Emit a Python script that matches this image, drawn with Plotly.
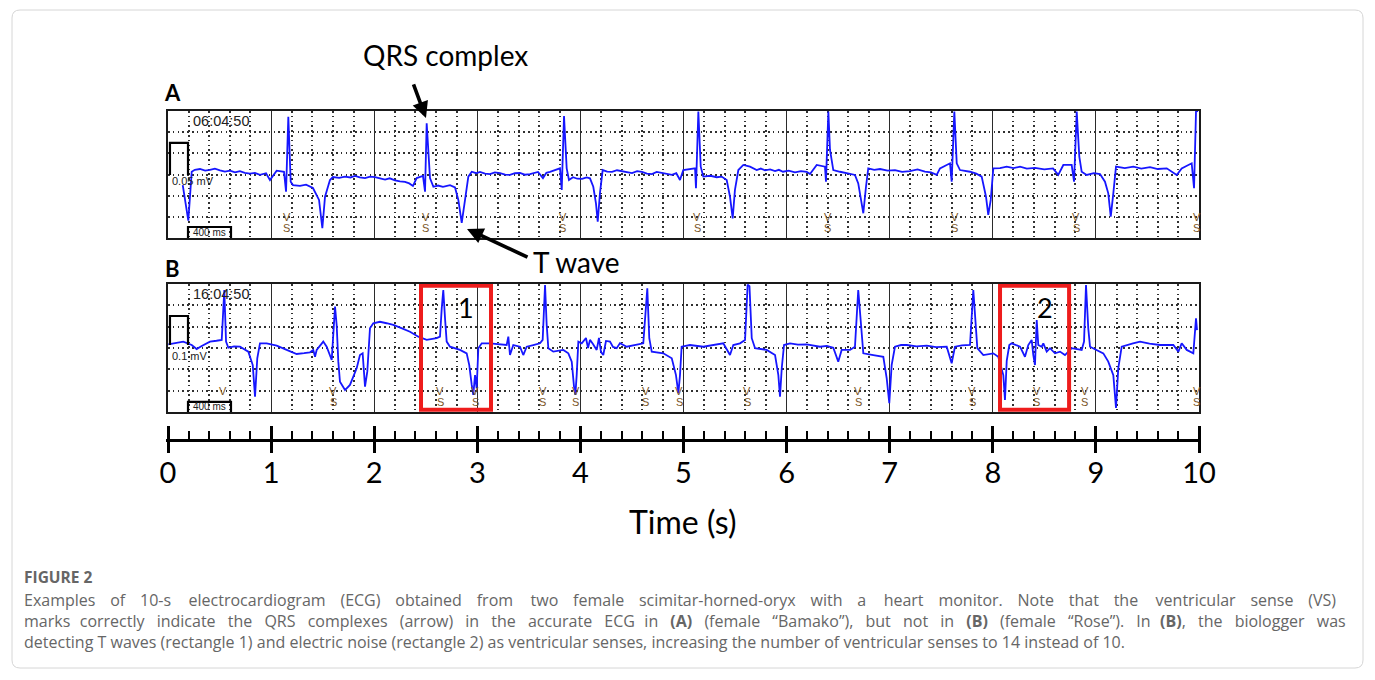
import plotly.graph_objects as go

# the page is drawn 8 px in from the window edge (body margin), so the
# figure is sized to fill the rest of the 1375x680 window
OFF = 8
W, H = 1375 - OFF, 680 - OFF

# ---------------- data (time in s, amplitude in grid divisions) ----------------
A_TIME = [0.143, 0.197, 0.230, 0.260, 0.310, 0.360, 0.407, 0.455, 0.504, 0.552,
          0.601, 0.650, 0.698, 0.745, 0.795, 0.843, 0.892, 0.951, 0.989, 1.054,
          1.125, 1.145, 1.167, 1.190, 1.212, 1.280, 1.339, 1.406, 1.465, 1.497,
          1.523, 1.571, 1.600, 1.660, 1.717, 1.770, 1.814, 1.860, 1.911, 1.960,
          2.008, 2.060, 2.105, 2.150, 2.202, 2.250, 2.299, 2.340, 2.376, 2.412,
          2.473, 2.493, 2.509, 2.541, 2.574, 2.620, 2.667, 2.735, 2.784, 2.816,
          2.849, 2.881, 2.913, 2.946, 2.990, 3.026, 3.075, 3.123, 3.170, 3.220,
          3.270, 3.317, 3.365, 3.414, 3.460, 3.511, 3.550, 3.589, 3.637, 3.670,
          3.705, 3.760, 3.802, 3.819, 3.841, 3.867, 3.889, 3.928, 3.970, 4.016,
          4.060, 4.093, 4.125, 4.151, 4.168, 4.190, 4.216, 4.260, 4.307, 4.355,
          4.404, 4.450, 4.501, 4.550, 4.597, 4.645, 4.694, 4.740, 4.791, 4.840,
          4.888, 4.930, 4.966, 4.998, 5.063, 5.112, 5.121, 5.144, 5.167, 5.192,
          5.260, 5.322, 5.370, 5.419, 5.451, 5.477, 5.499, 5.532, 5.580, 5.645,
          5.710, 5.750, 5.791, 5.840, 5.888, 5.925, 5.965, 6.020, 6.081, 6.140,
          6.195, 6.227, 6.292, 6.372, 6.382, 6.405, 6.421, 6.453, 6.518, 6.590,
          6.663, 6.695, 6.728, 6.744, 6.770, 6.792, 6.850, 6.906, 6.980, 7.051,
          7.120, 7.197, 7.270, 7.342, 7.400, 7.456, 7.488, 7.585, 7.601, 7.627,
          7.650, 7.682, 7.779, 7.840, 7.892, 7.934, 7.956, 7.980, 8.005, 8.070,
          8.135, 8.200, 8.264, 8.330, 8.409, 8.500, 8.584, 8.635, 8.684, 8.765,
          8.788, 8.814, 8.839, 8.862, 8.911, 8.980, 9.040, 9.088, 9.120, 9.144,
          9.169, 9.195, 9.280, 9.363, 9.440, 9.525, 9.600, 9.687, 9.784, 9.832,
          9.929, 9.952, 9.971, 9.990]
A_AMPL = [2.50, 0.82, 3.13, 3.22, 3.26, 3.18, 3.22, 3.28, 3.20, 3.14,
          3.18, 3.10, 3.16, 3.08, 3.04, 3.08, 2.98, 3.06, 2.74, 3.18,
          3.13, 2.19, 5.73, 2.66, 2.50, 2.46, 2.52, 2.36, 1.80, 0.46,
          1.95, 2.74, 2.88, 2.84, 2.90, 2.86, 2.93, 2.86, 2.83, 2.90,
          2.88, 2.80, 2.76, 2.82, 2.72, 2.68, 2.65, 2.58, 2.46, 2.83,
          2.93, 2.19, 5.42, 2.83, 2.42, 2.48, 2.42, 2.50, 2.39, 1.80,
          0.72, 1.80, 2.90, 3.13, 3.06, 3.12, 3.04, 3.02, 3.10, 3.07,
          2.99, 2.98, 3.06, 3.07, 2.99, 3.02, 3.08, 3.12, 2.83, 3.08,
          3.12, 3.20, 3.29, 2.27, 5.76, 3.29, 2.74, 2.87, 2.80, 2.79,
          2.86, 2.82, 2.42, 1.64, 0.77, 2.13, 3.21, 3.14, 3.12, 3.20,
          3.16, 3.10, 3.07, 3.16, 3.12, 3.04, 3.02, 3.12, 3.07, 3.00,
          2.98, 3.06, 2.74, 3.21, 3.26, 3.29, 2.35, 5.97, 3.37, 2.90,
          2.94, 2.87, 2.90, 2.74, 1.95, 0.93, 2.27, 3.21, 3.45, 3.37,
          3.21, 3.28, 3.20, 3.24, 3.16, 3.22, 3.13, 3.18, 3.10, 3.16,
          3.13, 3.02, 3.45, 3.37, 2.66, 5.97, 4.16, 3.21, 3.13, 3.06,
          2.98, 2.58, 1.64, 1.17, 2.42, 3.29, 3.22, 3.26, 3.18, 3.21,
          3.12, 3.16, 3.24, 3.14, 3.10, 2.98, 3.29, 3.53, 2.66, 5.97,
          3.53, 3.21, 3.13, 3.04, 2.90, 1.95, 1.09, 1.80, 3.29, 3.30,
          3.37, 3.30, 3.37, 3.28, 3.31, 3.24, 3.29, 2.98, 3.45, 3.45,
          2.66, 5.97, 3.84, 3.13, 2.98, 3.06, 3.02, 2.66, 2.11, 1.01,
          2.11, 3.37, 3.30, 3.37, 3.28, 3.35, 3.26, 3.29, 2.98, 3.29,
          3.53, 2.35, 5.97, 6.00]

B_TIME = [0.003, 0.148, 0.230, 0.278, 0.327, 0.407, 0.470, 0.521, 0.546, 0.563,
          0.585, 0.640, 0.698, 0.779, 0.822, 0.844, 0.866, 0.892, 0.957, 1.054,
          1.151, 1.248, 1.320, 1.377, 1.409, 1.426, 1.442, 1.506, 1.539, 1.588,
          1.620, 1.636, 1.652, 1.668, 1.717, 1.765, 1.830, 1.862, 1.888, 1.911,
          1.933, 1.959, 1.991, 2.056, 2.120, 2.185, 2.270, 2.347, 2.428, 2.509,
          2.606, 2.638, 2.655, 2.670, 2.687, 2.703, 2.735, 2.832, 2.897, 2.922,
          2.946, 2.961, 2.978, 2.994, 3.010, 3.043, 3.123, 3.220, 3.285, 3.301,
          3.317, 3.349, 3.414, 3.446, 3.479, 3.543, 3.608, 3.634, 3.657, 3.673,
          3.689, 3.737, 3.834, 3.883, 3.916, 3.938, 3.951, 3.964, 3.980, 4.013,
          4.054, 4.074, 4.093, 4.122, 4.158, 4.180, 4.200, 4.222, 4.248, 4.287,
          4.316, 4.352, 4.384, 4.449, 4.530, 4.610, 4.649, 4.668, 4.692, 4.804,
          4.886, 4.927, 4.950, 4.966, 4.982, 5.063, 5.192, 5.286, 5.386, 5.451,
          5.483, 5.548, 5.597, 5.622, 5.640, 5.662, 5.694, 5.807, 5.888, 5.920,
          5.936, 5.953, 5.975, 6.033, 6.110, 6.195, 6.260, 6.324, 6.390, 6.453,
          6.501, 6.534, 6.615, 6.663, 6.695, 6.719, 6.744, 6.841, 6.938, 6.971,
          6.996, 7.019, 7.051, 7.110, 7.165, 7.260, 7.359, 7.450, 7.553, 7.601,
          7.633, 7.700, 7.779, 7.811, 7.827, 7.850, 7.908, 8.005, 8.053, 8.102,
          8.118, 8.135, 8.160, 8.183, 8.264, 8.312, 8.344, 8.377, 8.393, 8.409,
          8.426, 8.441, 8.474, 8.490, 8.523, 8.555, 8.603, 8.652, 8.700, 8.765,
          8.862, 8.885, 8.904, 8.926, 8.943, 9.008, 9.072, 9.120, 9.169, 9.195,
          9.217, 9.250, 9.299, 9.360, 9.428, 9.520, 9.622, 9.751, 9.800, 9.832,
          9.881, 9.945, 9.971, 9.981]
B_AMPL = [3.17, 3.30, 3.14, 2.95, 3.09, 3.30, 3.34, 3.38, 5.72, 3.30,
          3.01, 3.08, 3.06, 2.83, 2.20, 0.72, 2.52, 3.22, 3.22, 3.11,
          2.91, 2.72, 2.76, 2.80, 2.91, 2.59, 2.91, 3.30, 3.06, 2.44,
          4.94, 4.08, 2.36, 1.42, 1.03, 1.27, 2.05, 2.67, 2.75, 1.19,
          1.89, 3.92, 4.16, 4.23, 4.16, 4.08, 3.92, 3.76, 3.53, 3.38,
          3.46, 3.53, 4.86, 5.72, 4.39, 3.30, 3.06, 2.91, 2.75, 2.20,
          1.27, 0.80, 1.73, 1.11, 2.99, 3.22, 3.22, 3.19, 3.14, 3.53,
          2.67, 3.14, 3.06, 2.67, 3.06, 3.14, 3.22, 3.38, 5.95, 4.08,
          2.99, 2.83, 2.91, 2.75, 2.36, 1.19, 0.80, 1.73, 3.30, 3.22,
          3.47, 3.00, 3.38, 3.19, 2.91, 3.47, 2.81, 2.67, 3.33, 3.30,
          3.05, 2.99, 3.23, 3.06, 3.14, 3.22, 5.80, 3.46, 2.83, 2.75,
          2.52, 1.73, 0.88, 1.73, 3.06, 3.14, 3.06, 3.14, 3.22, 2.67,
          3.14, 3.22, 3.38, 5.97, 5.90, 3.46, 2.99, 2.91, 2.67, 1.73,
          0.72, 2.05, 3.14, 3.22, 3.16, 3.17, 3.10, 3.06, 3.10, 3.01,
          2.36, 2.91, 2.91, 3.06, 5.72, 4.08, 2.75, 2.67, 2.59, 1.58,
          0.41, 2.20, 3.06, 3.14, 3.14, 3.08, 3.11, 3.04, 3.06, 2.28,
          3.06, 3.12, 3.14, 5.72, 4.39, 2.99, 2.67, 2.75, 2.59, 1.73,
          0.56, 2.40, 3.14, 3.22, 3.06, 2.59, 3.14, 3.38, 2.67, 2.20,
          4.31, 3.14, 3.06, 3.22, 2.83, 2.99, 2.75, 2.83, 2.67, 2.99,
          2.91, 3.30, 5.95, 3.92, 3.06, 2.91, 2.75, 2.36, 1.73, 0.19,
          2.05, 3.06, 3.14, 3.22, 3.30, 3.20, 3.14, 3.14, 2.83, 3.22,
          2.91, 2.75, 4.39, 3.84]

VS_A = [1.154, 2.498, 3.831, 5.131, 6.400, 7.633, 8.807, 9.980]
VS_B = [0.533, 1.604, 2.643, 2.978, 3.634, 3.957, 4.636, 4.960, 5.620,
        6.696, 7.800, 8.427, 8.894, 9.977]

NOISE_BOX_LABELS = ["1", "2"]
NOISE_BOX_START = [2.454, 8.070]
NOISE_BOX_END = [3.133, 8.740]

TIME_TICKS = list(range(0, 11))

CAPTION = [
    "Examples of 10-s electrocardiogram (ECG) obtained from two female scimitar-horned-oryx with a heart monitor. Note that the ventricular sense (VS)",
    "marks correctly indicate the QRS complexes (arrow) in the accurate ECG in <b>(A)</b> (female \u201cBamako\u201d), but not in <b>(B)</b> (female \u201cRose\u201d). In <b>(B)</b>, the biologger was",
    "detecting T waves (rectangle 1) and electric noise (rectangle 2) as ventricular senses, increasing the number of ventricular senses to 14 instead of 10.",
]
# extra word spacing (px per gap) that makes the first two caption lines justified
CAPTION_EXTRA_GAP = [11.9, 7.85, 0.0]


# ---------------- layout helpers ----------------
def px_x(x):
    return (x - OFF) / W


def px_y(y):
    return 1 - (y - OFF) / H


def justify(line, extra, size):
    if extra <= 0:
        return line
    en, thin = 0.5 * size, 0.2 * size
    words = line.split(" ")
    out, carry = words[0], 0.0
    for w in words[1:]:
        need = extra + carry
        n_en = int(need // en)
        n_th = int(round((need - n_en * en) / thin))
        carry = need - n_en * en - n_th * thin
        out += " " + "\u2002" * n_en + "\u2009" * n_th + w
    return out


X_DOM = [px_x(168), px_x(1199)]
YA_DOM = [px_y(238), px_y(111)]
YB_DOM = [px_y(412), px_y(284)]

TRACE_COLOR = "#1616ff"
VS_COLOR = "#7a5526"
GRID_DASH = "1.6px,3.2px"

fig = go.Figure()
fig.add_trace(go.Scatter(x=A_TIME, y=A_AMPL, mode="lines", xaxis="x", yaxis="y",
                         line=dict(color=TRACE_COLOR, width=1.8), hoverinfo="skip"))
fig.add_trace(go.Scatter(x=B_TIME, y=B_AMPL, mode="lines", xaxis="x2", yaxis="y2",
                         line=dict(color=TRACE_COLOR, width=1.8), hoverinfo="skip"))
fig.add_trace(go.Scatter(x=TIME_TICKS, y=[0] * len(TIME_TICKS), mode="markers",
                         xaxis="x3", yaxis="y3", marker=dict(opacity=0),
                         hoverinfo="skip"))

panel_x = dict(range=[0, 10], showticklabels=False, ticks="", tick0=0, dtick=1,
               showgrid=True, gridcolor="#2b2b2b", gridwidth=1.4,
               minor=dict(tick0=0, dtick=0.2, showgrid=True, gridcolor="#303030",
                          gridwidth=1.7, griddash=GRID_DASH),
               showline=True, mirror=True, linecolor="#1a1a1a", linewidth=1.6,
               zeroline=False, fixedrange=True, domain=X_DOM, automargin=False)
panel_y = dict(range=[0, 6], showticklabels=False, ticks="", tick0=0, dtick=1,
               showgrid=True, gridcolor="#303030", gridwidth=1.7, griddash=GRID_DASH,
               showline=True, mirror=True, linecolor="#1a1a1a", linewidth=1.6,
               zeroline=False, fixedrange=True, automargin=False)

pad = 1.6 / 103.1
fig.update_layout(
    width=W, height=H, autosize=False,
    margin=dict(l=0, r=0, t=0, b=0, pad=0, autoexpand=False),
    paper_bgcolor="white", plot_bgcolor="white", showlegend=False,
    xaxis=dict(panel_x, anchor="y"),
    yaxis=dict(panel_y, domain=YA_DOM, anchor="x"),
    xaxis2=dict(panel_x, anchor="y2"),
    yaxis2=dict(panel_y, domain=YB_DOM, anchor="x2"),
    xaxis3=dict(domain=[px_x(168 - 1.6), px_x(1199 + 1.6)], anchor="y3",
                range=[-pad, 10 + pad], tickmode="array", tickvals=TIME_TICKS,
                ticktext=[str(t) for t in TIME_TICKS],
                ticks="outside", ticklen=11, tickwidth=2.6, tickcolor="black",
                showline=True, linewidth=2.6, linecolor="black",
                showgrid=True, gridcolor="black", gridwidth=2.6,
                minor=dict(tick0=0, dtick=0.2, ticks="inside", ticklen=8,
                           tickwidth=1.8, tickcolor="black", showgrid=False),
                tickfont=dict(family="Lato", size=29, color="black"),
                ticklabelstandoff=-5, zeroline=False, fixedrange=True,
                automargin=False),
    yaxis3=dict(domain=[px_y(439), px_y(426)], range=[0, 1], visible=False,
                fixedrange=True, automargin=False),
)

shapes = []
# calibration pulses and 400 ms scale bars
for ax, base, top, bar in (("", 2.98, 4.49, 0.52), ("2", 3.14, 4.50, 0.47)):
    shapes.append(dict(type="path", xref="x" + ax, yref="y" + ax,
                       path=f"M 0.019 {base} L 0.019 {top} L 0.194 {top} L 0.194 {base}",
                       line=dict(color="black", width=2.2)))
    shapes.append(dict(type="path", xref="x" + ax, yref="y" + ax,
                       path=f"M 0.194 0 L 0.194 {bar} L 0.611 {bar} L 0.611 0",
                       line=dict(color="black", width=2.2)))
# red rectangles
for s, e in zip(NOISE_BOX_START, NOISE_BOX_END):
    shapes.append(dict(type="rect", xref="x2", yref="y2", x0=s, x1=e, y0=0.1, y1=5.92,
                       line=dict(color="#ee1c1c", width=4)))
# outer rounded frame
r = 8
x0, x1, y0, y1 = 12, 1363, 10, 668
path = (f"M {px_x(x0 + r)} {px_y(y0)} L {px_x(x1 - r)} {px_y(y0)} "
        f"Q {px_x(x1)} {px_y(y0)} {px_x(x1)} {px_y(y0 + r)} "
        f"L {px_x(x1)} {px_y(y1 - r)} Q {px_x(x1)} {px_y(y1)} {px_x(x1 - r)} {px_y(y1)} "
        f"L {px_x(x0 + r)} {px_y(y1)} Q {px_x(x0)} {px_y(y1)} {px_x(x0)} {px_y(y1 - r)} "
        f"L {px_x(x0)} {px_y(y0 + r)} Q {px_x(x0)} {px_y(y0)} {px_x(x0 + r)} {px_y(y0)} Z")
shapes.append(dict(type="path", xref="paper", yref="paper", path=path,
                   line=dict(color="#d6d6d6", width=1)))
fig.update_layout(shapes=shapes)

ann = []
small = dict(family="Liberation Sans", color="#222222")
for ax, stamp, cal, cal_y, bar_y in (("", "06:04:50", "0.05 mV", 2.70, 0.27),
                                      ("2", "16:04:50", "0.1 mV", 2.63, 0.24)):
    ann.append(dict(xref="x" + ax, yref="y" + ax, x=0.51, y=5.53, text=stamp,
                    showarrow=False, font=dict(small, size=14.5)))
    ann.append(dict(xref="x" + ax, yref="y" + ax, x=0.015, y=cal_y, text=cal,
                    xanchor="left", showarrow=False, font=dict(small, size=11)))
    ann.append(dict(xref="x" + ax, yref="y" + ax, x=0.40, y=bar_y, text="400 ms",
                    showarrow=False, font=dict(small, size=10)))

for ax, marks in (("", VS_A), ("2", VS_B)):
    for t in marks:
        ann.append(dict(xref="x" + ax, yref="y" + ax, x=t, y=1.0, text="V",
                        showarrow=False, font=dict(family="Liberation Sans", size=11,
                                                   color=VS_COLOR)))
        if t > 0.62:
            ann.append(dict(xref="x" + ax, yref="y" + ax, x=t, y=0.46, text="S",
                            showarrow=False, font=dict(family="Liberation Sans",
                                                       size=11, color=VS_COLOR)))

for lab, s, e in zip(NOISE_BOX_LABELS, NOISE_BOX_START, NOISE_BOX_END):
    ann.append(dict(xref="x2", yref="y2", x=(s + e) / 2 + 0.1, y=4.92, text=lab,
                    showarrow=False, font=dict(family="Lato", size=27, color="black")))

# arrows
ann.append(dict(xref="x", yref="y", x=2.502, y=5.67, ax=-13, ay=-35, text="",
                showarrow=True, arrowhead=2, arrowsize=0.9, arrowwidth=3.6,
                arrowcolor="black"))
ann.append(dict(xref="x", yref="y", x=2.90, y=0.43, ax=62, ay=29, text="",
                showarrow=True, arrowhead=2, arrowsize=0.9, arrowwidth=3.6,
                arrowcolor="black"))


def paper_text(x, y, text, font, xanchor="center"):
    return dict(xref="paper", yref="paper", x=px_x(x), y=px_y(y), text=text,
                xanchor=xanchor, yanchor="middle", showarrow=False, font=font)


big = dict(family="Lato", color="black")
ann.append(paper_text(446, 55, "QRS complex", dict(big, size=28)))
ann.append(paper_text(576, 262, "T wave", dict(big, size=28)))
ann.append(paper_text(172, 92, "<b>A</b>", dict(big, size=22)))
ann.append(paper_text(172, 268, "<b>B</b>", dict(big, size=22)))
ann.append(paper_text(683, 521, "Time (s)", dict(big, size=32)))

CAP_SIZE = 16
cap_font = dict(family="Open Sans", size=CAP_SIZE, color="#666666")
ann.append(paper_text(22, 577, "<b>FIGURE 2</b>", dict(cap_font, size=15.5),
                      xanchor="left"))
for i, (line, extra) in enumerate(zip(CAPTION, CAPTION_EXTRA_GAP)):
    ann.append(paper_text(22, 600 + 21 * i, justify(line, extra, CAP_SIZE), cap_font,
                          xanchor="left"))

fig.update_layout(annotations=ann)
fig.write_html("out.html")
